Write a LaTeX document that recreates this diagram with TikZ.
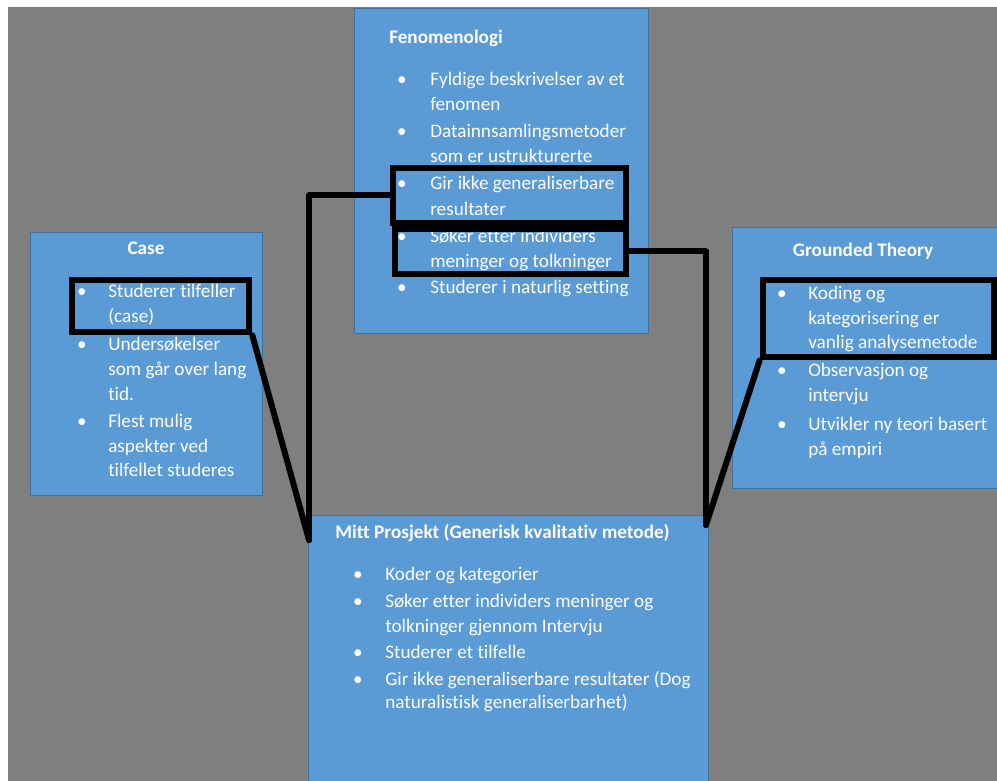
\documentclass[tikz,border=0pt]{standalone}
\usepackage{fontspec}
\setmainfont{Carlito}[Ligatures=CommonOff]
\usepackage{xcolor}
\usepackage{tikz}
\usetikzlibrary{fit}
\definecolor{bggray}{HTML}{7F7F7F}
\definecolor{boxblue}{HTML}{5B9BD5}
\definecolor{boxedge}{HTML}{41719C}

\begin{document}
\begin{tikzpicture}[x=0.75pt, y=-0.75pt,
    box/.style={draw=boxedge, fill=boxblue, line width=0.75pt, inner sep=0pt},
    hlbox/.style={draw=black, line width=5pt, inner sep=0pt},
    link/.style={draw=black, line width=4.5pt, line cap=round, line join=round},
    txt/.style={text=white, anchor=base west, inner sep=0pt, font=\fontsize{14.4}{17}\selectfont},
    head/.style={txt, font=\fontsize{14.4}{17}\selectfont\bfseries},
    dot/.style={txt, anchor=base}]
    %\draw[step=50,gray,very thin] (0,0) grid (997,781);
    \useasboundingbox (0,0) rectangle (997,781);
    \clip (0,0) rectangle (997,781);
    \fill[white] (0,0) rectangle (997,781);
    \fill[bggray] (8,7) rectangle (997,781);

    % the four method boxes
    \node[box, fit={(354,9) (648,333)}] (fen) {};
    \node[box, fit={(30,233) (262,495)}] (case) {};
    \node[box, fit={(732,228) (1000,488)}] (gt) {};
    \node[box, fit={(308,515) (708,790)}] (mitt) {};

    % Fenomenologi
    \node[head] (fentitle) at (389,44) {Fenomenologi};
    \foreach \yy/\lbl [count=\i] in {86/Fyldige beskrivelser av et, 111/fenomen,
        138/Datainnsamlingsmetoder, 163/som er ustrukturerte,
        190/Gir ikke generaliserbare, 216/resultater,
        243/Søker etter individers, 268/meninger og tolkninger,
        294/Studerer i naturlig setting}
      \node[txt] (fen\i) at (430,\yy) {\lbl};
    \foreach \yy [count=\i] in {86,138,190,243,294}
      \node[dot] (fenb\i) at (402,\yy) {•};

    % Case
    \node[head, anchor=base] (casetitle) at (146,255) {Case};
    \foreach \yy/\lbl [count=\i] in {298/Studerer tilfeller, 323/(case),
        350/Undersøkelser, 375/som går over lang, 400/tid.,
        427/Flest mulig, 452/aspekter ved, 476/tilfellet studeres}
      \node[txt] (case\i) at (108,\yy) {\lbl};
    \foreach \yy [count=\i] in {298,350,427}
      \node[dot] (caseb\i) at (82,\yy) {•};

    % Grounded Theory
    \node[head, anchor=base] (gttitle) at (863,257) {Grounded Theory};
    \foreach \yy/\lbl [count=\i] in {300/Koding og, 325/kategorisering er,
        349/vanlig analysemetode, 377/Observasjon og, 402/intervju,
        430/Utvikler ny teori basert, 455/på empiri}
      \node[txt] (gt\i) at (808,\yy) {\lbl};
    \foreach \yy [count=\i] in {300,377,430}
      \node[dot] (gtb\i) at (782,\yy) {•};

    % Mitt prosjekt
    \node[head] (mitttitle) at (335,538) {Mitt Prosjekt (Generisk kvalitativ metode)};
    \foreach \yy/\lbl [count=\i] in {580/Koder og kategorier,
        607/Søker etter individers meninger og, 632/tolkninger gjennom Intervju,
        658/Studerer et tilfelle,
        685/Gir ikke generaliserbare resultater (Dog, 708/naturalistisk generaliserbarhet)}
      \node[txt] (mitt\i) at (385,\yy) {\lbl};
    \foreach \yy [count=\i] in {580,607,658,685}
      \node[dot] (mittb\i) at (358,\yy) {•};

    % highlighted points
    \node[hlbox, fit={(393,168) (626,223)}] (hlgir) {};
    \node[hlbox, fit={(395,229) (626,274)}] (hlsok) {};
    \node[hlbox, fit={(72,280) (249,332)}] (hlcase) {};
    \node[hlbox, fit={(763,280) (994,357)}] (hlgt) {};

    \coordinate (lend) at (309,540);
    \coordinate (rend) at (706,525);

    \draw[link] (hlgir.west) -| (lend);
    \draw[link] (hlcase.south east) -- (lend);
    \draw[link] (hlsok.east) -| (rend);
    \draw[link] (hlgt.south west) -- (rend);
\end{tikzpicture}
\end{document}
